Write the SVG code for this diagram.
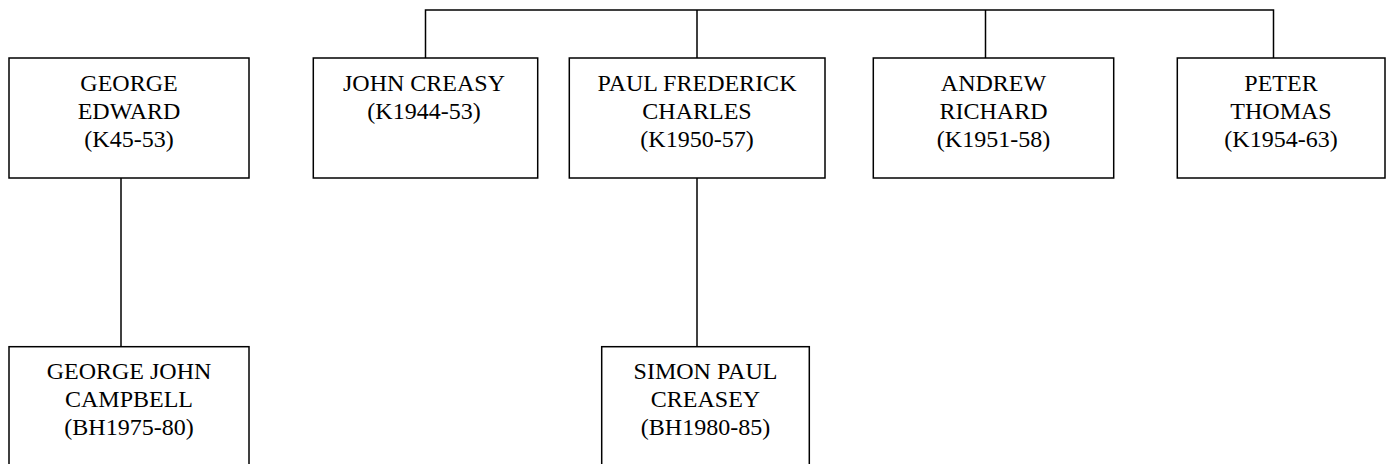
<svg xmlns="http://www.w3.org/2000/svg" width="1388" height="464" viewBox="0 0 1388 464">
<style>
.box{fill:#fff;stroke:#000;stroke-width:1.5}
.con{fill:none;stroke:#000;stroke-width:1.5}
text{font-family:"Liberation Serif","Times New Roman",serif;font-size:24px;fill:#000;text-anchor:middle}
</style>
<rect width="1388" height="464" fill="#fff"/>
<g id="connectors">
<path class="con" d="M425.5 58V10H1273.5V58M697 10V58M985.5 10V58"/>
<path class="con" d="M121 178V347"/>
<path class="con" d="M697 178V347"/>
</g>
<g id="george-edward">
<rect class="box" x="9" y="58" width="240" height="120"/>
<text x="129" y="91">GEORGE</text>
<text x="129" y="119">EDWARD</text>
<text x="129" y="147">(K45-53)</text>
</g>
<g id="john-creasy">
<rect class="box" x="313.3" y="58" width="224.4" height="120"/>
<text x="424" y="91">JOHN CREASY</text>
<text x="424" y="119">(K1944-53)</text>
</g>
<g id="paul-frederick-charles">
<rect class="box" x="569.3" y="58" width="255.7" height="120"/>
<text x="697" y="91">PAUL FREDERICK</text>
<text x="697" y="119">CHARLES</text>
<text x="697" y="147">(K1950-57)</text>
</g>
<g id="andrew-richard">
<rect class="box" x="873.3" y="58" width="240.4" height="120"/>
<text x="993.5" y="91">ANDREW</text>
<text x="993.5" y="119">RICHARD</text>
<text x="993.5" y="147">(K1951-58)</text>
</g>
<g id="peter-thomas">
<rect class="box" x="1177.3" y="58" width="207.7" height="120"/>
<text x="1281" y="91">PETER</text>
<text x="1281" y="119">THOMAS</text>
<text x="1281" y="147">(K1954-63)</text>
</g>
<g id="george-john-campbell">
<rect class="box" x="9" y="346.7" width="240" height="120"/>
<text x="129" y="379">GEORGE JOHN</text>
<text x="129" y="407">CAMPBELL</text>
<text x="129" y="435">(BH1975-80)</text>
</g>
<g id="simon-paul-creasey">
<rect class="box" x="601.7" y="346.7" width="207.6" height="120"/>
<text x="705.5" y="379">SIMON PAUL</text>
<text x="705.5" y="407">CREASEY</text>
<text x="705.5" y="435">(BH1980-85)</text>
</g>
</svg>
